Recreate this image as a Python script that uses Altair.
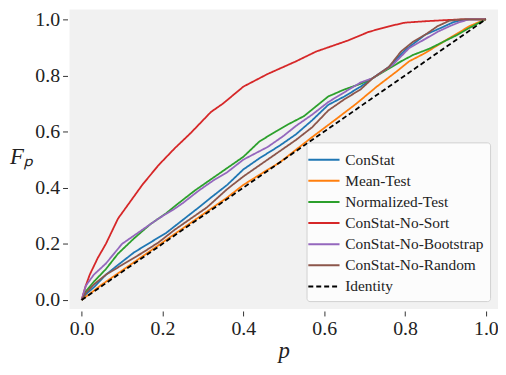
import altair as alt
import pandas as pd

series_names = ["ConStat", "Mean-Test", "Normalized-Test", "ConStat-No-Sort",
                "ConStat-No-Bootstrap", "ConStat-No-Random", "Identity"]
colors = ["#1f77b4", "#ff7f0e", "#2ca02c", "#d62728", "#9467bd", "#8c564b", "#000000"]

constat_p = [0, 0.01, 0.03, 0.06, 0.09, 0.13, 0.17, 0.21, 0.25, 0.29, 0.32, 0.36, 0.40, 0.44, 0.49, 0.53, 0.57, 0.61, 0.65, 0.69, 0.72, 0.76, 0.80, 0.85, 0.89, 0.92, 0.95, 1.0]
constat_f = [0, 0.02, 0.045, 0.09, 0.125, 0.17, 0.205, 0.24, 0.285, 0.33, 0.365, 0.41, 0.465, 0.505, 0.55, 0.59, 0.64, 0.695, 0.725, 0.76, 0.79, 0.83, 0.89, 0.945, 0.97, 0.99, 1.0, 1.0]

mean_p = [0, 0.05, 0.1, 0.15, 0.2, 0.25, 0.3, 0.36, 0.4, 0.45, 0.49, 0.53, 0.57, 0.63, 0.68, 0.73, 0.78, 0.81, 0.85, 0.895, 0.93, 0.96, 1.0]
mean_f = [0, 0.055, 0.105, 0.155, 0.205, 0.255, 0.305, 0.365, 0.41, 0.455, 0.49, 0.535, 0.58, 0.645, 0.70, 0.76, 0.815, 0.85, 0.88, 0.92, 0.95, 0.976, 1.0]

norm_p = [0, 0.01, 0.03, 0.06, 0.09, 0.13, 0.17, 0.21, 0.24, 0.28, 0.32, 0.36, 0.40, 0.44, 0.48, 0.51, 0.55, 0.58, 0.61, 0.65, 0.69, 0.72, 0.755, 0.79, 0.82, 0.86, 0.895, 0.93, 0.96, 1.0]
norm_f = [0, 0.03, 0.065, 0.11, 0.165, 0.22, 0.27, 0.31, 0.345, 0.39, 0.43, 0.47, 0.51, 0.565, 0.60, 0.625, 0.655, 0.69, 0.725, 0.75, 0.77, 0.79, 0.82, 0.85, 0.873, 0.895, 0.92, 0.945, 0.97, 1.0]

nosort_p = [0, 0.01, 0.02, 0.04, 0.06, 0.09, 0.12, 0.15, 0.19, 0.23, 0.27, 0.32, 0.35, 0.40, 0.46, 0.53, 0.58, 0.61, 0.66, 0.71, 0.76, 0.80, 0.85, 0.90, 0.95, 1.0]
nosort_f = [0, 0.05, 0.09, 0.15, 0.20, 0.29, 0.35, 0.41, 0.48, 0.54, 0.595, 0.67, 0.70, 0.76, 0.805, 0.85, 0.885, 0.90, 0.925, 0.955, 0.975, 0.988, 0.993, 0.997, 1.0, 1.0]

noboot_p = [0, 0.01, 0.03, 0.06, 0.10, 0.15, 0.19, 0.23, 0.25, 0.29, 0.33, 0.36, 0.40, 0.46, 0.50, 0.53, 0.57, 0.61, 0.65, 0.69, 0.72, 0.77, 0.81, 0.85, 0.88, 0.91, 0.935, 0.96, 1.0]
noboot_f = [0, 0.05, 0.09, 0.13, 0.20, 0.25, 0.29, 0.325, 0.345, 0.39, 0.43, 0.455, 0.50, 0.545, 0.585, 0.62, 0.66, 0.705, 0.74, 0.775, 0.79, 0.838, 0.897, 0.93, 0.955, 0.975, 0.99, 1.0, 1.0]

norand_p = [0, 0.01, 0.03, 0.06, 0.10, 0.15, 0.19, 0.23, 0.27, 0.31, 0.36, 0.40, 0.44, 0.49, 0.53, 0.57, 0.61, 0.65, 0.69, 0.72, 0.76, 0.79, 0.82, 0.85, 0.88, 0.91, 0.94, 1.0]
norand_f = [0, 0.025, 0.055, 0.09, 0.125, 0.168, 0.205, 0.25, 0.29, 0.33, 0.395, 0.44, 0.48, 0.53, 0.57, 0.615, 0.675, 0.715, 0.75, 0.79, 0.83, 0.885, 0.92, 0.945, 0.975, 0.995, 1.0, 1.0]

identity_p = [0, 1]
identity_f = [0, 1]

tick_values = [0, 0.2, 0.4, 0.6, 0.8, 1.0]

all_p = [constat_p, mean_p, norm_p, nosort_p, noboot_p, norand_p, identity_p]
all_f = [constat_f, mean_f, norm_f, nosort_f, noboot_f, norand_f, identity_f]

rows = []
for i, (name, ps, fs) in enumerate(zip(series_names, all_p, all_f)):
    for j, (p, f) in enumerate(zip(ps, fs)):
        rows.append({"series": name, "p": p, "F": f, "k": i, "j": j})
df = pd.DataFrame(rows)

font = "Liberation Serif"

dash_range = [[1, 0]] * 6 + [[5, 3]]

axis_common = dict(
    values=tick_values, format=".1f", grid=False, domain=False,
    tickColor="#333333", tickSize=5, tickWidth=1,
    labelFont=font, labelFontSize=20, labelColor="#222222", labelPadding=3,
    titleFont=font, titleColor="#222222", titleFontStyle="italic",
    titleFontSize=23, titleFontWeight="normal", offset=2,
)

chart = alt.Chart(df).mark_line(strokeWidth=1.8).encode(
    x=alt.X("p:Q", scale=alt.Scale(domain=[-0.03, 1.03], nice=False, zero=False),
            axis=alt.Axis(title="p", titlePadding=1, **axis_common)),
    y=alt.Y("F:Q", scale=alt.Scale(domain=[-0.032, 1.035], nice=False, zero=False),
            axis=alt.Axis(title="Fₚ", titleAngle=0, titleX=-47, titleY=148,
                          titleAlign="center", titleBaseline="middle", **axis_common)),
    color=alt.Color("series:N", scale=alt.Scale(domain=series_names, range=colors), title=None),
    strokeDash=alt.StrokeDash("series:N", scale=alt.Scale(domain=series_names, range=dash_range), title=None),
    detail="k:N",
    order="j:Q",
).properties(
    width=432, height=302,
    padding={"left": 62, "top": 0, "right": 0, "bottom": 57},
    autosize=alt.AutoSizeParams(type="none"),
).configure_view(
    fill="#f1f1f1", stroke=None
).configure_legend(
    orient="bottom-right", offset=8, fillColor="#fcfcfc", strokeColor="#d0d0d0",
    cornerRadius=3, padding=6, labelFont=font, labelFontSize=15.5, labelColor="#222222",
    symbolType="M-1.5,0H1.5", symbolSize=440, symbolStrokeWidth=2,
    labelOffset=10, rowPadding=1.3, labelLimit=300,
)

chart.save("out.html", embed_options={"renderer": "svg", "actions": False})
